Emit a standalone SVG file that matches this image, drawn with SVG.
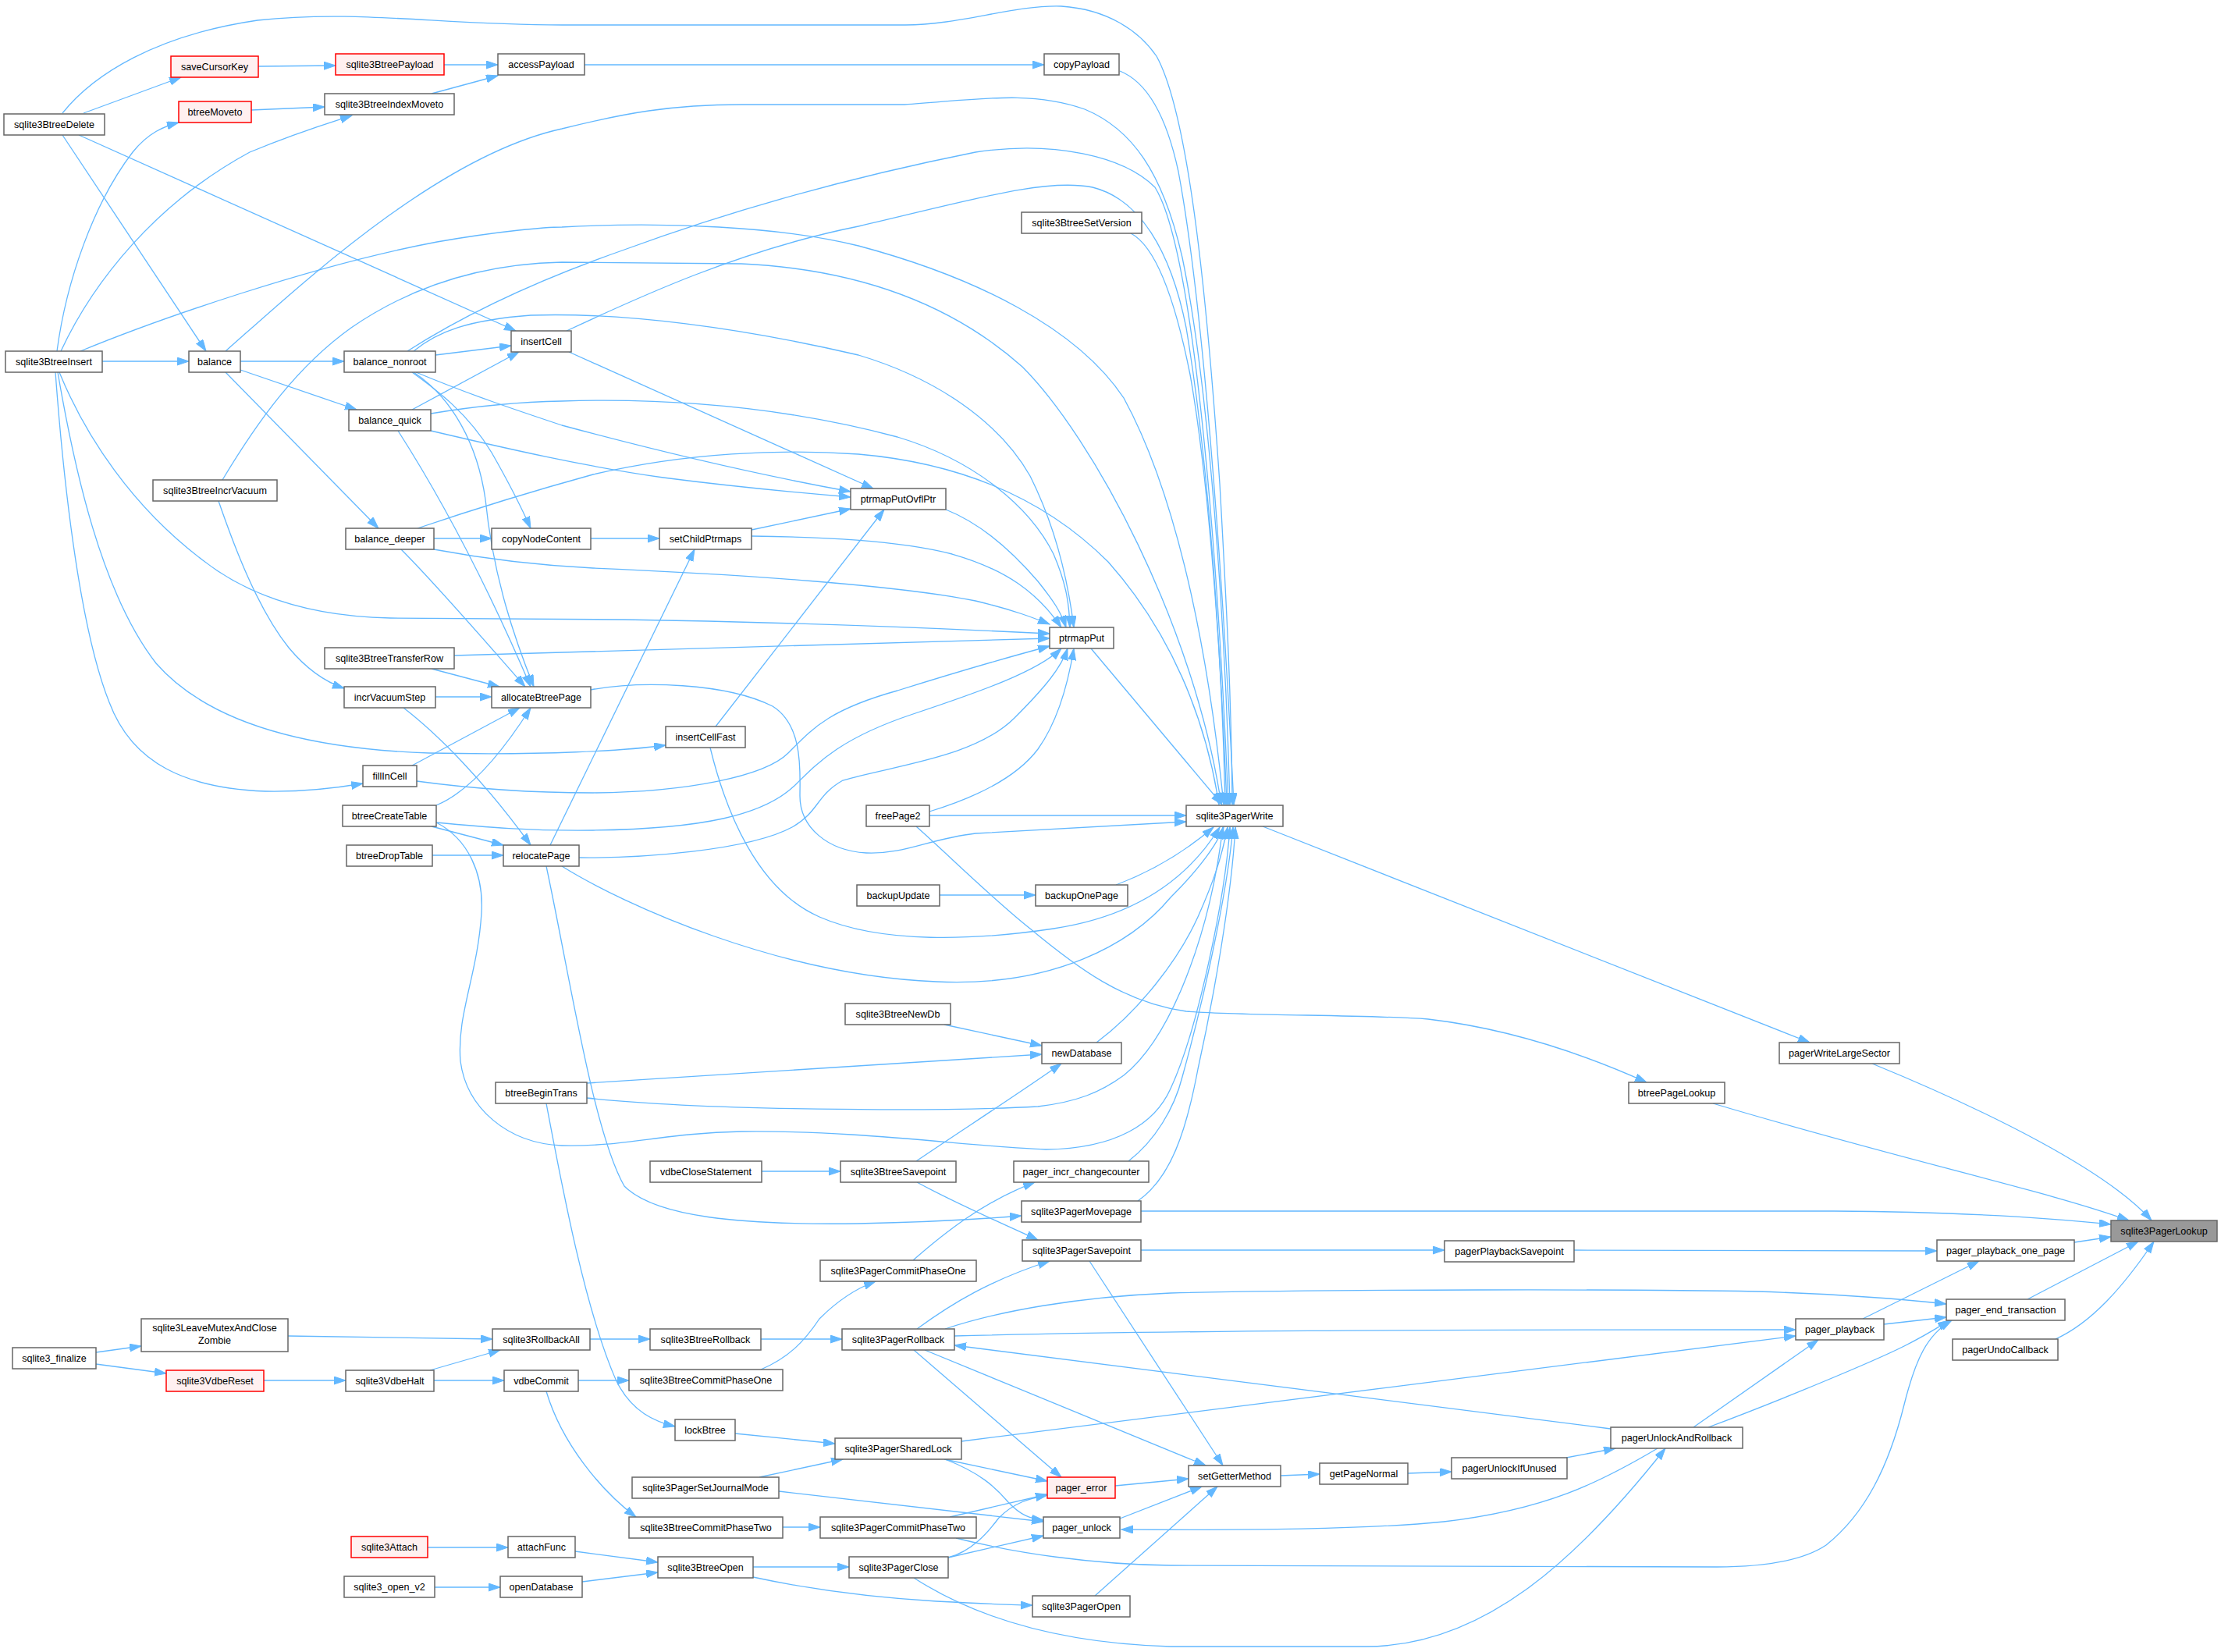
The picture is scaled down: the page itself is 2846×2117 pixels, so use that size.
<svg xmlns="http://www.w3.org/2000/svg" width="2846" height="2117" viewBox="0 0 2846 2117">
<defs>
<style>
.n rect{fill:#ffffff;stroke:#666666;stroke-width:1.5}
.n.r rect{fill:#fff0f0;stroke:#ff0000}
.n.h rect{fill:#999999;stroke:#666666}
.n text{font-family:"Liberation Sans",Arial,sans-serif;font-size:12.6px;fill:#000000;text-anchor:middle}
#edges path{fill:none;stroke:#63b8ff;stroke-width:1.3;marker-end:url(#ah)}
</style>
<marker id="ah" markerUnits="userSpaceOnUse" markerWidth="16" markerHeight="11" refX="15" refY="5" orient="auto">
<path d="M0,0 L15,5 L0,10 Z" fill="#63b8ff" stroke="#63b8ff" stroke-width="1"/>
</marker>
</defs>
<rect x="0" y="0" width="2846" height="2117" fill="#ffffff"/>
<g id="edges">
<path d="M107,145 L232,99"/>
<path d="M80,145 C120,95 200,45 330,26 C460,12 560,32 720,32 L1160,32 C1230,32 1300,6 1360,8 C1420,12 1460,40 1482,72 C1525,150 1548,400 1563,620 C1572,780 1578,900 1579,1031"/>
<path d="M80,173 L264,450"/>
<path d="M101,173 L661,424"/>
<path d="M331,85 L430,84"/>
<path d="M569,83 L638,83"/>
<path d="M553,120 L638,97"/>
<path d="M322,141 L416,137"/>
<path d="M73,450 C85,360 120,260 170,195 C190,170 210,162 229,157"/>
<path d="M78,450 C120,360 200,260 320,195 C380,170 420,158 451,148"/>
<path d="M131,463 L242,463"/>
<path d="M749,83 L1338,83"/>
<path d="M1435,91 C1470,105 1495,150 1510,220 C1540,380 1565,700 1581,1031"/>
<path d="M1449,299 C1480,315 1505,380 1525,480 C1550,620 1565,850 1572,1031"/>
<path d="M289,450 C380,370 560,200 720,165 C800,145 860,134 950,134 L1159,134 C1250,128 1320,115 1390,140 C1450,165 1490,220 1515,330 C1550,500 1570,800 1576,1031"/>
<path d="M522,450 C600,400 700,355 800,320 C950,265 1100,225 1250,195 C1350,180 1440,200 1480,240 C1530,320 1560,700 1574,1031"/>
<path d="M726,424 C820,380 950,320 1100,290 C1250,255 1340,228 1400,240 C1460,255 1500,320 1520,420 C1550,600 1566,850 1570,1031"/>
<path d="M103,450 C200,410 400,340 560,310 C640,296 700,291 720,291 C850,284 1000,290 1100,315 C1250,355 1380,420 1440,510 C1500,620 1545,800 1568,1031"/>
<path d="M285,615 C330,540 380,470 450,420 C530,365 620,338 720,336 L950,338 C1100,345 1220,390 1310,470 C1400,560 1530,800 1565,1031"/>
<path d="M535,677 C600,655 680,630 760,608 C880,580 1000,575 1100,582 C1250,595 1350,650 1420,720 C1500,810 1545,920 1562,1031"/>
<path d="M1398,831 L1566,1031"/>
<path d="M1191,1045 L1520,1045"/>
<path d="M757,884 C820,872 930,875 990,905 C1030,930 1025,990 1025,1020 C1025,1060 1060,1090 1110,1093 C1160,1095 1190,1075 1250,1068 L1520,1053"/>
<path d="M1430,1134 C1480,1115 1520,1090 1555,1060"/>
<path d="M910,958 C930,1040 970,1140 1050,1175 C1130,1210 1250,1205 1350,1190 C1450,1175 1520,1130 1563,1060"/>
<path d="M720,1110 C800,1160 1000,1250 1200,1258 C1350,1265 1450,1210 1500,1150 C1540,1110 1560,1080 1568,1060"/>
<path d="M1405,1336 C1460,1295 1510,1230 1535,1175 C1555,1130 1565,1100 1573,1060"/>
<path d="M559,1054 C600,1075 620,1120 617,1170 C612,1250 585,1300 590,1360 C598,1420 650,1465 720,1468 C800,1470 850,1452 950,1450 C1100,1448 1250,1470 1340,1473 C1430,1472 1480,1440 1500,1395 C1535,1320 1570,1150 1576,1060"/>
<path d="M752,1407 C900,1423 1200,1425 1330,1418 C1380,1412 1410,1400 1440,1378 C1500,1330 1550,1200 1567,1060"/>
<path d="M1446,1488 C1480,1462 1505,1420 1515,1380 C1540,1290 1572,1150 1580,1060"/>
<path d="M1458,1539 C1500,1510 1520,1450 1535,1370 C1555,1280 1578,1150 1583,1060"/>
<path d="M308,463 L441,463"/>
<path d="M308,474 L457,525"/>
<path d="M289,477 L485,677"/>
<path d="M558,455 L655,443"/>
<path d="M528,477 C560,500 600,530 630,580 C650,615 668,650 680,677"/>
<path d="M533,477 C600,505 660,525 720,545 C850,580 980,610 1090,630"/>
<path d="M530,477 C580,510 612,570 622,640 C632,740 660,820 684,880"/>
<path d="M530,450 C560,425 600,410 680,404 C800,400 950,420 1100,455 C1200,485 1280,540 1320,610 C1350,670 1368,740 1376,804"/>
<path d="M528,525 L665,451"/>
<path d="M552,530 C600,522 660,515 720,514 C850,510 1000,520 1150,560 C1250,590 1320,650 1350,710 C1365,745 1370,770 1371,804"/>
<path d="M552,552 C650,575 750,598 850,612 C950,625 1030,632 1090,637"/>
<path d="M510,552 C560,630 620,740 680,880"/>
<path d="M556,690 L630,690"/>
<path d="M514,704 C560,750 620,820 673,880"/>
<path d="M556,704 C620,716 680,724 760,728 C950,736 1150,750 1250,770 C1300,782 1325,792 1345,800"/>
<path d="M757,690 L845,690"/>
<path d="M963,679 L1090,652"/>
<path d="M963,687 C1050,688 1150,692 1220,710 C1290,730 1330,760 1360,804"/>
<path d="M1212,653 C1260,672 1300,710 1330,745 C1350,770 1360,785 1366,804"/>
<path d="M76,477 C110,560 170,650 260,718 C320,765 400,790 500,792 L800,794 C1000,797 1200,805 1345,812"/>
<path d="M582,840 L1345,818"/>
<path d="M553,857 L640,880"/>
<path d="M280,642 C300,700 330,780 370,830 C395,860 420,875 441,882"/>
<path d="M558,893 L630,893"/>
<path d="M517,907 C560,940 620,1000 680,1083"/>
<path d="M528,981 L666,907"/>
<path d="M534,1001 C600,1010 680,1016 760,1016 C880,1015 980,995 1010,965 C1040,935 1060,910 1150,885 C1230,860 1300,840 1345,828"/>
<path d="M71,477 C80,600 100,800 140,900 C170,980 240,1010 340,1014 C390,1015 430,1010 465,1004"/>
<path d="M74,477 C95,600 130,760 200,850 C270,930 400,960 550,965 C700,968 800,962 853,955"/>
<path d="M559,1032 C600,1015 640,970 680,907"/>
<path d="M553,1059 L645,1083"/>
<path d="M559,1054 C620,1060 680,1065 760,1064 C900,1062 980,1045 1020,1005 C1050,975 1080,945 1170,915 C1260,885 1330,860 1360,831"/>
<path d="M554,1096 L645,1096"/>
<path d="M705,1083 L890,704"/>
<path d="M742,1099 C820,1100 960,1090 1015,1060 C1050,1040 1045,1020 1080,1000 C1150,980 1250,970 1300,920 C1340,880 1360,855 1368,831"/>
<path d="M700,1110 C730,1250 760,1450 800,1520 C840,1560 950,1570 1100,1568 C1200,1566 1260,1562 1309,1558"/>
<path d="M1191,1040 C1240,1025 1300,1000 1330,960 C1355,925 1368,880 1376,831"/>
<path d="M1174,1059 C1220,1100 1270,1150 1320,1190 C1380,1240 1440,1285 1520,1296 C1600,1302 1750,1300 1830,1306 C1950,1320 2050,1360 2110,1387"/>
<path d="M1204,1147 L1327,1147"/>
<path d="M1210,1313 L1335,1340"/>
<path d="M752,1388 L1335,1351"/>
<path d="M1174,1488 C1230,1450 1300,1405 1360,1363"/>
<path d="M700,1414 C720,1520 750,1680 790,1770 C810,1810 840,1822 865,1828"/>
<path d="M976,1501 L1077,1501"/>
<path d="M1175,1515 C1230,1545 1290,1570 1330,1589"/>
<path d="M1170,1615 C1210,1580 1260,1540 1326,1515"/>
<path d="M1462,1552 L2350,1552 C2500,1553 2620,1560 2705,1569"/>
<path d="M1462,1602 L1851,1602"/>
<path d="M2017,1602 L2482,1603"/>
<path d="M1396,1616 L1567,1878"/>
<path d="M2658,1592 L2705,1585"/>
<path d="M2387,1690 L2536,1616"/>
<path d="M2598,1665 L2740,1591"/>
<path d="M2634,1716 C2680,1695 2720,1650 2760,1591"/>
<path d="M2399,1363 C2550,1425 2700,1500 2757,1564"/>
<path d="M2195,1414 C2450,1490 2620,1525 2728,1564"/>
<path d="M1618,1059 L2319,1336"/>
<path d="M1211,1703 C1280,1680 1380,1662 1500,1657 C1700,1652 2100,1652 2250,1655 C2350,1658 2430,1664 2494,1671"/>
<path d="M1223,1712 C1500,1705 1800,1704 2301,1704"/>
<path d="M2414,1697 L2494,1688"/>
<path d="M1232,1847 L2301,1712"/>
<path d="M2170,1829 L2330,1717"/>
<path d="M2189,1829 C2280,1795 2400,1745 2440,1725 C2470,1710 2485,1700 2498,1692"/>
<path d="M1225,1971 C1300,1990 1400,2005 1500,2006 L2200,2008 C2260,2008 2310,2000 2340,1980 C2390,1940 2420,1880 2440,1800 C2455,1740 2470,1710 2501,1692"/>
<path d="M2064,1831 L1223,1724"/>
<path d="M2124,1856 C2050,1900 1980,1935 1850,1950 C1750,1960 1600,1961 1437,1960"/>
<path d="M2007,1868 L2070,1856"/>
<path d="M1804,1888 L1860,1886"/>
<path d="M1641,1891 L1691,1889"/>
<path d="M1171,2022 C1230,2060 1330,2105 1500,2110 L1750,2110 C1900,2110 2020,2000 2134,1856"/>
<path d="M1429,1904 L1523,1895"/>
<path d="M1435,1946 L1540,1905"/>
<path d="M1403,2045 L1560,1905"/>
<path d="M1185,1730 L1545,1878"/>
<path d="M1175,1703 C1220,1670 1270,1640 1345,1616"/>
<path d="M1171,1730 L1360,1893"/>
<path d="M1210,1870 L1342,1898"/>
<path d="M1211,1870 C1255,1887 1275,1905 1292,1925 C1308,1942 1320,1946 1337,1948"/>
<path d="M1217,1944 L1342,1915"/>
<path d="M1215,1996 C1245,1988 1265,1965 1280,1945 C1300,1925 1320,1920 1342,1916"/>
<path d="M1215,1996 L1337,1968"/>
<path d="M998,1911 L1337,1950"/>
<path d="M973,1893 L1080,1870"/>
<path d="M942,1837 L1070,1850"/>
<path d="M965,2008 L1088,2008"/>
<path d="M965,2021 C1030,2035 1100,2046 1200,2052 C1260,2055 1300,2057 1323,2057"/>
<path d="M737,1988 L843,2002"/>
<path d="M746,2027 L843,2015"/>
<path d="M548,1983 L651,1983"/>
<path d="M557,2034 L641,2034"/>
<path d="M1003,1957 L1051,1957"/>
<path d="M741,1769 L806,1769"/>
<path d="M700,1783 C720,1850 770,1910 815,1944"/>
<path d="M975,1755 C1010,1740 1030,1720 1050,1690 C1075,1665 1100,1650 1122,1642"/>
<path d="M975,1716 L1079,1716"/>
<path d="M756,1716 L833,1716"/>
<path d="M369,1712 L631,1716"/>
<path d="M551,1756 L641,1730"/>
<path d="M556,1769 L646,1769"/>
<path d="M338,1769 L443,1769"/>
<path d="M123,1733 L181,1725"/>
<path d="M123,1748 L213,1760"/>
<path d="M729,451 L1119,626"/>
<path d="M917,931 L1133,653"/>
</g>
<g id="n1" class="n"><rect x="5" y="146" width="129" height="27"/><text x="69.5" y="164">sqlite3BtreeDelete</text></g>
<g id="n2" class="n"><rect x="7" y="450" width="124" height="27"/><text x="69" y="468">sqlite3BtreeInsert</text></g>
<g id="n3" class="n"><rect x="16" y="1727" width="107" height="27"/><text x="69.5" y="1745">sqlite3_finalize</text></g>
<g id="n4" class="n r"><rect x="219" y="72" width="112" height="27"/><text x="275" y="90">saveCursorKey</text></g>
<g id="n5" class="n r"><rect x="229" y="130" width="93" height="27"/><text x="275.5" y="148">btreeMoveto</text></g>
<g id="n6" class="n"><rect x="242" y="450" width="66" height="27"/><text x="275" y="468">balance</text></g>
<g id="n7" class="n"><rect x="196" y="615" width="159" height="27"/><text x="275.5" y="633">sqlite3BtreeIncrVacuum</text></g>
<g id="n8" class="n"><rect x="181" y="1690" width="188" height="42"/><text x="275" y="1706">sqlite3LeaveMutexAndClose</text><text x="275" y="1722">Zombie</text></g>
<g id="n9" class="n r"><rect x="213" y="1756" width="125" height="27"/><text x="275.5" y="1774">sqlite3VdbeReset</text></g>
<g id="n10" class="n r"><rect x="430" y="69" width="139" height="27"/><text x="499.5" y="87">sqlite3BtreePayload</text></g>
<g id="n11" class="n"><rect x="416" y="120" width="166" height="27"/><text x="499" y="138">sqlite3BtreeIndexMoveto</text></g>
<g id="n12" class="n"><rect x="441" y="450" width="117" height="27"/><text x="499.5" y="468">balance_nonroot</text></g>
<g id="n13" class="n"><rect x="447" y="525" width="105" height="27"/><text x="499.5" y="543">balance_quick</text></g>
<g id="n14" class="n"><rect x="443" y="677" width="113" height="27"/><text x="499.5" y="695">balance_deeper</text></g>
<g id="n15" class="n"><rect x="416" y="830" width="166" height="27"/><text x="499" y="848">sqlite3BtreeTransferRow</text></g>
<g id="n16" class="n"><rect x="441" y="880" width="117" height="27"/><text x="499.5" y="898">incrVacuumStep</text></g>
<g id="n17" class="n"><rect x="465" y="981" width="69" height="27"/><text x="499.5" y="999">fillInCell</text></g>
<g id="n18" class="n"><rect x="439" y="1032" width="120" height="27"/><text x="499" y="1050">btreeCreateTable</text></g>
<g id="n19" class="n"><rect x="444" y="1083" width="110" height="27"/><text x="499" y="1101">btreeDropTable</text></g>
<g id="n20" class="n"><rect x="443" y="1756" width="113" height="27"/><text x="499.5" y="1774">sqlite3VdbeHalt</text></g>
<g id="n21" class="n r"><rect x="450" y="1969" width="98" height="27"/><text x="499" y="1987">sqlite3Attach</text></g>
<g id="n22" class="n"><rect x="441" y="2020" width="116" height="27"/><text x="499" y="2038">sqlite3_open_v2</text></g>
<g id="n23" class="n"><rect x="638" y="69" width="111" height="27"/><text x="693.5" y="87">accessPayload</text></g>
<g id="n24" class="n"><rect x="655" y="424" width="77" height="27"/><text x="693.5" y="442">insertCell</text></g>
<g id="n25" class="n"><rect x="630" y="677" width="127" height="27"/><text x="693.5" y="695">copyNodeContent</text></g>
<g id="n26" class="n"><rect x="630" y="880" width="127" height="27"/><text x="693.5" y="898">allocateBtreePage</text></g>
<g id="n27" class="n"><rect x="645" y="1083" width="97" height="27"/><text x="693.5" y="1101">relocatePage</text></g>
<g id="n28" class="n"><rect x="635" y="1387" width="117" height="27"/><text x="693.5" y="1405">btreeBeginTrans</text></g>
<g id="n29" class="n"><rect x="631" y="1703" width="125" height="27"/><text x="693.5" y="1721">sqlite3RollbackAll</text></g>
<g id="n30" class="n"><rect x="646" y="1756" width="95" height="27"/><text x="693.5" y="1774">vdbeCommit</text></g>
<g id="n31" class="n"><rect x="651" y="1969" width="86" height="27"/><text x="694" y="1987">attachFunc</text></g>
<g id="n32" class="n"><rect x="641" y="2020" width="105" height="27"/><text x="693.5" y="2038">openDatabase</text></g>
<g id="n33" class="n"><rect x="845" y="677" width="118" height="27"/><text x="904" y="695">setChildPtrmaps</text></g>
<g id="n34" class="n"><rect x="853" y="931" width="102" height="27"/><text x="904" y="949">insertCellFast</text></g>
<g id="n35" class="n"><rect x="833" y="1488" width="143" height="27"/><text x="904.5" y="1506">vdbeCloseStatement</text></g>
<g id="n36" class="n"><rect x="833" y="1703" width="142" height="27"/><text x="904" y="1721">sqlite3BtreeRollback</text></g>
<g id="n37" class="n"><rect x="806" y="1755" width="197" height="27"/><text x="904.5" y="1773">sqlite3BtreeCommitPhaseOne</text></g>
<g id="n38" class="n"><rect x="865" y="1819" width="77" height="27"/><text x="903.5" y="1837">lockBtree</text></g>
<g id="n39" class="n"><rect x="810" y="1893" width="188" height="27"/><text x="904" y="1911">sqlite3PagerSetJournalMode</text></g>
<g id="n40" class="n"><rect x="806" y="1944" width="197" height="27"/><text x="904.5" y="1962">sqlite3BtreeCommitPhaseTwo</text></g>
<g id="n41" class="n"><rect x="843" y="1995" width="122" height="27"/><text x="904" y="2013">sqlite3BtreeOpen</text></g>
<g id="n42" class="n"><rect x="1090" y="626" width="122" height="27"/><text x="1151" y="644">ptrmapPutOvflPtr</text></g>
<g id="n43" class="n"><rect x="1110" y="1032" width="81" height="27"/><text x="1150.5" y="1050">freePage2</text></g>
<g id="n44" class="n"><rect x="1098" y="1134" width="106" height="27"/><text x="1151" y="1152">backupUpdate</text></g>
<g id="n45" class="n"><rect x="1083" y="1286" width="135" height="27"/><text x="1150.5" y="1304">sqlite3BtreeNewDb</text></g>
<g id="n46" class="n"><rect x="1077" y="1488" width="148" height="27"/><text x="1151" y="1506">sqlite3BtreeSavepoint</text></g>
<g id="n47" class="n"><rect x="1051" y="1615" width="200" height="27"/><text x="1151" y="1633">sqlite3PagerCommitPhaseOne</text></g>
<g id="n48" class="n"><rect x="1079" y="1703" width="144" height="27"/><text x="1151" y="1721">sqlite3PagerRollback</text></g>
<g id="n49" class="n"><rect x="1070" y="1843" width="162" height="27"/><text x="1151" y="1861">sqlite3PagerSharedLock</text></g>
<g id="n50" class="n"><rect x="1051" y="1944" width="200" height="27"/><text x="1151" y="1962">sqlite3PagerCommitPhaseTwo</text></g>
<g id="n51" class="n"><rect x="1088" y="1995" width="127" height="27"/><text x="1151.5" y="2013">sqlite3PagerClose</text></g>
<g id="n52" class="n"><rect x="1338" y="69" width="96" height="27"/><text x="1386" y="87">copyPayload</text></g>
<g id="n53" class="n"><rect x="1309" y="272" width="154" height="27"/><text x="1386" y="290">sqlite3BtreeSetVersion</text></g>
<g id="n54" class="n"><rect x="1345" y="804" width="82" height="27"/><text x="1386" y="822">ptrmapPut</text></g>
<g id="n55" class="n"><rect x="1327" y="1134" width="118" height="27"/><text x="1386" y="1152">backupOnePage</text></g>
<g id="n56" class="n"><rect x="1335" y="1336" width="102" height="27"/><text x="1386" y="1354">newDatabase</text></g>
<g id="n57" class="n"><rect x="1299" y="1488" width="173" height="27"/><text x="1385.5" y="1506">pager_incr_changecounter</text></g>
<g id="n58" class="n"><rect x="1309" y="1539" width="153" height="27"/><text x="1385.5" y="1557">sqlite3PagerMovepage</text></g>
<g id="n59" class="n"><rect x="1310" y="1589" width="152" height="27"/><text x="1386" y="1607">sqlite3PagerSavepoint</text></g>
<g id="n60" class="n r"><rect x="1342" y="1893" width="87" height="27"/><text x="1385.5" y="1911">pager_error</text></g>
<g id="n61" class="n"><rect x="1337" y="1944" width="98" height="27"/><text x="1386" y="1962">pager_unlock</text></g>
<g id="n62" class="n"><rect x="1323" y="2045" width="125" height="27"/><text x="1385.5" y="2063">sqlite3PagerOpen</text></g>
<g id="n63" class="n"><rect x="1520" y="1032" width="124" height="27"/><text x="1582" y="1050">sqlite3PagerWrite</text></g>
<g id="n64" class="n"><rect x="1523" y="1878" width="118" height="27"/><text x="1582" y="1896">setGetterMethod</text></g>
<g id="n65" class="n"><rect x="1691" y="1875" width="113" height="27"/><text x="1747.5" y="1893">getPageNormal</text></g>
<g id="n66" class="n"><rect x="1851" y="1590" width="166" height="27"/><text x="1934" y="1608">pagerPlaybackSavepoint</text></g>
<g id="n67" class="n"><rect x="1860" y="1868" width="148" height="27"/><text x="1934" y="1886">pagerUnlockIfUnused</text></g>
<g id="n68" class="n"><rect x="2087" y="1387" width="123" height="27"/><text x="2148.5" y="1405">btreePageLookup</text></g>
<g id="n69" class="n"><rect x="2064" y="1829" width="169" height="27"/><text x="2148.5" y="1847">pagerUnlockAndRollback</text></g>
<g id="n70" class="n"><rect x="2280" y="1336" width="154" height="27"/><text x="2357" y="1354">pagerWriteLargeSector</text></g>
<g id="n71" class="n"><rect x="2301" y="1690" width="113" height="27"/><text x="2357.5" y="1708">pager_playback</text></g>
<g id="n72" class="n"><rect x="2482" y="1589" width="176" height="27"/><text x="2570" y="1607">pager_playback_one_page</text></g>
<g id="n73" class="n"><rect x="2494" y="1665" width="152" height="27"/><text x="2570" y="1683">pager_end_transaction</text></g>
<g id="n74" class="n"><rect x="2502" y="1716" width="135" height="27"/><text x="2569.5" y="1734">pagerUndoCallback</text></g>
<g id="n75" class="n h"><rect x="2705" y="1564" width="136" height="27"/><text x="2773" y="1582">sqlite3PagerLookup</text></g>
</svg>
